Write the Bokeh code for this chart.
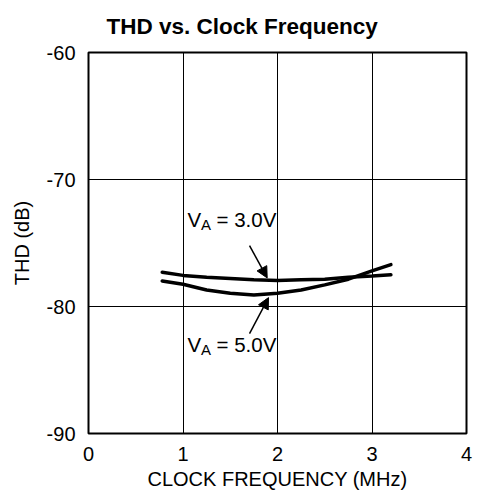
from bokeh.plotting import figure
from bokeh.models import Range1d, FixedTicker, Label, Arrow, NormalHead, Title
from bokeh.embed import file_html
from bokeh.resources import INLINE

# ---- data ----
freq_mhz = [0.78, 1.0, 1.25, 1.5, 1.75, 2.0, 2.25, 2.5, 2.75, 3.0, 3.2]
thd_va_3v = [-77.3, -77.55, -77.7, -77.8, -77.9, -77.95, -77.9, -77.85, -77.7, -77.6, -77.5]
thd_va_5v = [-78.0, -78.25, -78.7, -78.95, -79.1, -78.95, -78.7, -78.3, -77.85, -77.2, -76.7]
x_ticks = [0, 1, 2, 3, 4]
y_ticks = [-90, -80, -70, -60]
title_text = "THD vs. Clock Frequency"

FONT = "Liberation Sans"

p = figure(width=482, height=500, output_backend="svg", toolbar_location=None,
           x_range=Range1d(0, 4), y_range=Range1d(-90, -60),
           min_border_left=88, min_border_right=16, min_border_top=52, min_border_bottom=67)
p.frame_width = 378
p.frame_height = 381

p.title = Title(text=title_text, align="left", offset=18, vertical_align="top",
                text_font=FONT, text_font_size="22.5px", text_font_style="bold",
                text_color="#000000", standoff=23)

p.outline_line_color = "black"
p.outline_line_width = 2
p.background_fill_color = "white"
p.border_fill_color = "white"

for ax in (p.xaxis[0], p.yaxis[0]):
    ax.axis_line_color = None
    ax.major_tick_line_color = None
    ax.minor_tick_line_color = None
    ax.major_tick_out = 0
    ax.major_tick_in = 0
    ax.minor_tick_out = 0
    ax.minor_tick_in = 0
    ax.major_label_text_font = FONT
    ax.major_label_text_font_size = "20px"
    ax.major_label_text_color = "#000000"
    ax.axis_label_text_font = FONT
    ax.axis_label_text_font_size = "20px"
    ax.axis_label_text_font_style = "normal"
    ax.axis_label_text_color = "#000000"

p.xaxis.ticker = FixedTicker(ticks=x_ticks)
p.yaxis.ticker = FixedTicker(ticks=y_ticks)
p.yaxis.major_label_overrides = {t: str(t) for t in y_ticks}
p.xaxis.major_label_overrides = {t: str(t) for t in x_ticks}
p.xaxis.axis_label = "CLOCK FREQUENCY (MHz)"
p.yaxis.axis_label = "THD (dB)"
p.xaxis.major_label_standoff = 13
p.yaxis.major_label_standoff = 13
p.xaxis.axis_label_standoff = 4
p.yaxis.axis_label_standoff = 11

p.xgrid.ticker = FixedTicker(ticks=x_ticks)
p.ygrid.ticker = FixedTicker(ticks=y_ticks)
for g in (p.xgrid[0], p.ygrid[0]):
    g.grid_line_color = "black"
    g.grid_line_width = 1
    g.grid_line_alpha = 1.0

p.line(freq_mhz, thd_va_3v, line_color="black", line_width=3.5, line_cap="round")
p.line(freq_mhz, thd_va_5v, line_color="black", line_width=3.5, line_cap="round")

# ---- annotations ----
def va_label(x, y, rest):
    p.add_layout(Label(x=x, y=y, x_offset=29, y_offset=8, text=rest, text_font=FONT,
                       text_font_size="20.5px", text_color="black",
                       background_fill_color="white", text_baseline="alphabetic"))
    p.add_layout(Label(x=x, y=y, y_offset=8, text="V", text_font=FONT, text_font_size="20.5px",
                       text_color="black", text_baseline="alphabetic"))
    p.add_layout(Label(x=x, y=y, x_offset=13.5, y_offset=3, text="A", text_font=FONT,
                       text_font_size="15px", text_color="black", text_baseline="alphabetic"))

va_label(1.048, -73.76, "= 3.0V")
va_label(1.048, -83.6, "= 5.0V")

p.add_layout(Arrow(x_start=1.704, y_start=-75.2, x_end=1.891, y_end=-77.75,
                   line_color="black", line_width=1.5,
                   end=NormalHead(size=11, fill_color="black", line_color="black")))
p.add_layout(Arrow(x_start=1.704, y_start=-82.13, x_end=1.905, y_end=-79.3,
                   line_color="black", line_width=1.5,
                   end=NormalHead(size=11, fill_color="black", line_color="black")))

open("out.html", "w").write(file_html(p, INLINE))
